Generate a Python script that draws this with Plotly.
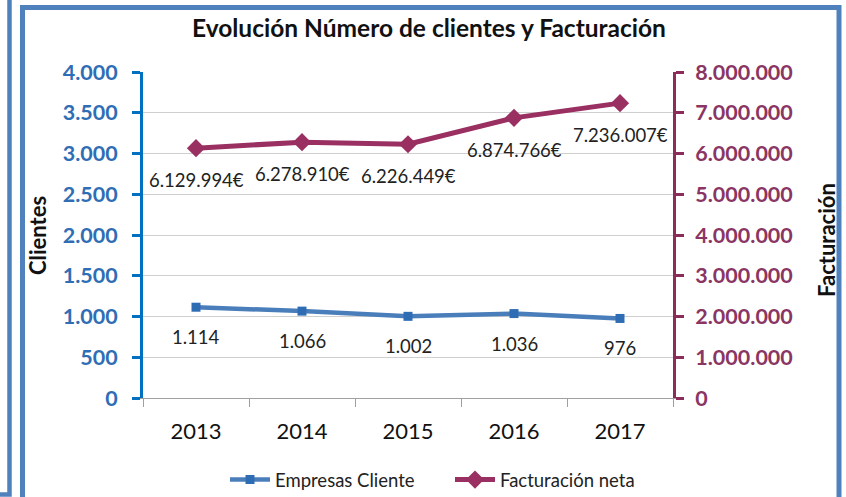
import plotly.graph_objects as go

# ---- data ----
years = [2013, 2014, 2015, 2016, 2017]
clientes = [1114, 1066, 1002, 1036, 976]
facturacion = [6129994, 6278910, 6226449, 6874766, 7236007]
clientes_ticks = [0, 500, 1000, 1500, 2000, 2500, 3000, 3500, 4000]
facturacion_ticks = [0, 1000000, 2000000, 3000000, 4000000, 5000000, 6000000, 7000000, 8000000]

title = "Evolución Número de clientes y Facturación"
name_clientes = "Empresas Cliente"
name_fact = "Facturación neta"

# ---- styles ----
W, H = 846, 497
ML, MR, MT, MB = 143, 173, 72, 99
PW, PH = W - ML - MR, H - MT - MB
FONT = "Lato, 'Open Sans', sans-serif"
BLUE_LINE = "#4A7EBB"
BLUE_MARK = "#2E6DB4"
BLUE_AXIS = "#0070C0"
BLUE_TICK = "#2F6DB5"
MAROON = "#9A2F62"
MAROON_AXIS = "#8B2D5A"
MAROON_TICK = "#8A3563"
FRAME = "#4F81BD"


def px_x(px):
    return (px - ML) / PW


def px_y(py):
    return (H - MB - py) / PH


def fmt(v):
    return f"{v:,}".replace(",", ".")


boundaries = [years[0] - 0.5] + [y + 0.5 for y in years]

fig = go.Figure()
fig.add_trace(go.Scatter(
    x=years, y=clientes, name=name_clientes, mode="lines+markers",
    line=dict(color=BLUE_LINE, width=4.5),
    marker=dict(symbol="square", size=9, color=BLUE_MARK),
    xaxis="x", yaxis="y",
))
fig.add_trace(go.Scatter(
    x=years, y=facturacion, name=name_fact, mode="lines+markers",
    line=dict(color=MAROON, width=5),
    marker=dict(symbol="diamond", size=14, color=MAROON),
    xaxis="x", yaxis="y2",
))

annotations = []
for x, v in zip(years, clientes):
    annotations.append(dict(x=x, y=v, xref="x", yref="y", text=fmt(v),
                            showarrow=False, yshift=-30,
                            font=dict(family=FONT, size=18.5, color="#222222")))
for x, v in zip(years, facturacion):
    annotations.append(dict(x=x, y=v, xref="x", yref="y2", text=fmt(v) + "€",
                            showarrow=False, yshift=-32,
                            font=dict(family=FONT, size=18.5, color="#222222")))

annotations.append(dict(x=px_x(429), y=px_y(28), xref="paper", yref="paper",
                        xanchor="center", yanchor="middle",
                        text="<b>" + title + "</b>", showarrow=False,
                        font=dict(family=FONT, size=24.5, color="#111111")))
annotations.append(dict(x=px_x(37), y=px_y(236), xref="paper", yref="paper",
                        xanchor="center", yanchor="middle",
                        text="<b>Clientes</b>", textangle=-90, showarrow=False,
                        font=dict(family=FONT, size=22, color="#111111")))
annotations.append(dict(x=px_x(826), y=px_y(240), xref="paper", yref="paper",
                        xanchor="center", yanchor="middle",
                        text="<b>Facturación</b>", textangle=-90, showarrow=False,
                        font=dict(family=FONT, size=22, color="#111111")))

shapes = [
    dict(type="rect", xref="paper", yref="paper",
         x0=px_x(22.5), x1=px_x(839), y0=px_y(7.5), y1=px_y(520),
         line=dict(color=FRAME, width=5), layer="below"),
    dict(type="path", xref="paper", yref="paper",
         path=f"M {px_x(9.5)},{px_y(-10)} L {px_x(9.5)},{px_y(494.5)} L {px_x(-10)},{px_y(494.5)}",
         line=dict(color=FRAME, width=4.5)),
]

fig.update_layout(
    width=W, height=H, autosize=False,
    margin=dict(l=ML, r=MR, t=MT, b=MB, pad=0, autoexpand=False),
    paper_bgcolor="white", plot_bgcolor="white",
    separators=",.",
    font=dict(family=FONT, color="#111111"),
    showlegend=True,
    legend=dict(orientation="h", x=px_x(450), xanchor="center", y=px_y(480), yanchor="middle",
                font=dict(family=FONT, size=18.5, color="#222222"),
                entrywidth=170, entrywidthmode="pixels", itemwidth=40,
                bgcolor="rgba(0,0,0,0)"),
    xaxis=dict(type="linear", range=[boundaries[0], boundaries[-1]],
               tickvals=years, tickformat="d", ticks="",
               showline=True, linecolor="#A0A0A0", linewidth=1,
               showgrid=False, zeroline=False, tickangle=0, ticklabelstandoff=14,
               minor=dict(tickvals=boundaries, ticks="outside", ticklen=8,
                          tickcolor="#A0A0A0", tickwidth=1, showgrid=False),
               tickfont=dict(family=FONT, size=22, color="#111111")),
    yaxis=dict(range=[0, 4000], tickvals=clientes_ticks, tickformat=",d",
               showline=True, linecolor=BLUE_AXIS, linewidth=3,
               ticks="outside", ticklen=8, tickwidth=3, tickcolor=BLUE_AXIS,
               showgrid=True, gridcolor="#CFCFCF", gridwidth=1, zeroline=False,
               ticklabelstandoff=10,
               tickfont=dict(family=FONT, size=21.5, color=BLUE_TICK, weight="bold")),
    yaxis2=dict(range=[0, 8000000], tickvals=facturacion_ticks, tickformat=",d",
                overlaying="y", side="right",
                showline=True, linecolor=MAROON_AXIS, linewidth=3,
                ticks="outside", ticklen=8, tickwidth=3, tickcolor=MAROON_AXIS,
                showgrid=False, zeroline=False, ticklabelstandoff=7,
                tickfont=dict(family=FONT, size=21.5, color=MAROON_TICK, weight="bold")),
    annotations=annotations,
    shapes=shapes,
)

fig.write_html(
    "out.html",
    config={"displayModeBar": False},
    post_script="document.body.style.margin='0';document.body.style.overflow='hidden';",
)
